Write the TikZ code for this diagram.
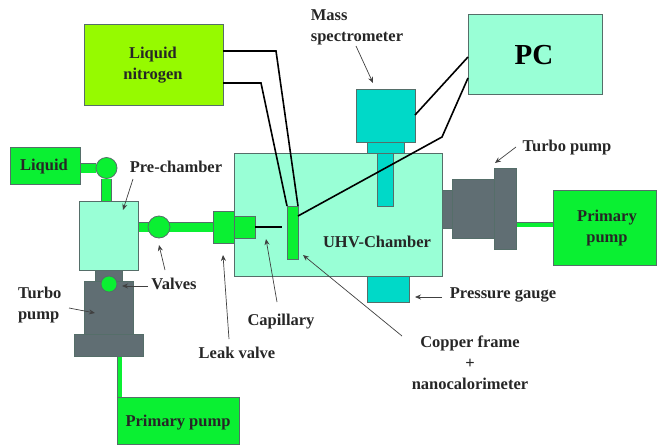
\documentclass[tikz,border=0pt]{standalone}
\usepackage{fontspec}
\setmainfont{Liberation Serif}
\usepackage{xcolor}
\usetikzlibrary{arrows.meta,positioning,backgrounds}
\definecolor{pipegreen}{RGB}{10,240,50}
\definecolor{nitrogen}{RGB}{150,250,0}
\definecolor{paleaqua}{RGB}{153,255,214}
\definecolor{blockteal}{RGB}{0,217,200}
\definecolor{blockgray}{RGB}{96,110,115}
\definecolor{edgegray}{RGB}{85,110,105}

\begin{document}
\begin{tikzpicture}[
  x=1pt, y=-1pt,
  sysbox/.style={draw=edgegray, line width=0.8pt, rectangle, inner sep=0pt, outer sep=0pt,
                 minimum width=#1},
  sysbox/.default=10pt,
  greenbox/.style={sysbox=#1, fill=pipegreen},
  aquabox/.style={sysbox=#1, fill=paleaqua},
  tealbox/.style={sysbox=#1, fill=blockteal},
  graybox/.style={sysbox=#1, fill=blockgray},
  valve/.style={circle, draw=edgegray, line width=0.8pt, fill=pipegreen, inner sep=0pt,
                outer sep=0pt, minimum size=#1},
  pipe/.style={draw=edgegray, line width=0.7pt, double=pipegreen, double distance=#1},
  pipe/.default=9pt,
  wire/.style={black, line width=1.6pt, line join=miter},
  arr/.style={-{Stealth[length=6pt,width=5pt]}, draw=black!75, line width=0.7pt},
  lbl/.style={inner sep=0pt, outer sep=0pt, align=center, text=black!85,
              font=\fontsize{16.5}{21}\selectfont\bfseries},
  node distance=0pt
]
\useasboundingbox (0,0) rectangle (657,445);

%% Main chamber and pre-chamber
\node[aquabox=208pt, minimum height=123pt] (chamber) at (338,214.5) {};
\node[aquabox=59pt, minimum height=69pt]   (prechamber) at (108.5,235.5) {};
\node[aquabox=134pt, minimum height=80pt]  (pc) at (535,54) {};

%% Left turbo stack
\node[graybox=27pt, minimum height=11pt, below=of prechamber] (leftneck) {};
\node[graybox=49pt, minimum height=53pt, below=of leftneck]   (leftbody) {};
\node[graybox=69pt, minimum height=22pt, below=of leftbody]   (leftbase) {};

%% Right turbo stack
\node[graybox=10pt, minimum height=38pt] (rightneck) at (447,209) {};
\node[graybox=42pt, minimum height=59pt, right=of rightneck] (rightbody) {};
\node[graybox=22pt, minimum height=81pt, right=of rightbody] (rightflange) {};

%% Mass spectrometer and gauge
\node[tealbox=59pt, minimum height=53pt] (msbody) at (385.5,115.5) {};
\node[tealbox=37pt, minimum height=11pt, below=of msbody] (msneck) {};
\node[tealbox=16pt, minimum height=53pt, below=of msneck] (mstube) {};
\node[tealbox=42pt, minimum height=26pt] (gauge) at (388,289) {};

%% Supplies and pumps
\node[greenbox=70pt, minimum height=37pt]    (liquid) at (45,165.5) {};
\node[sysbox=139pt, fill=nitrogen, minimum height=81pt] (nitro) at (153.5,64.5) {};
\node[greenbox=122pt, minimum height=46.5pt]  (pumpbottom) at (178,421) {};
\node[greenbox=103.5pt, minimum height=75pt] (pumpright) at (604.75,227.5) {};

%% Leak valve, frame, valves
\node[greenbox=21pt, minimum height=32pt] (leakouter) at (223.5,227) {};
\node[greenbox=21pt, minimum height=22pt, right=of leakouter] (leakinner) {};
\node[greenbox=11pt, minimum height=53pt] (frame) at (292.5,232.5) {};
\node[valve=21pt] (valvetop) at (106.5,168) {};
\node[valve=22pt] (valvemid) at (159,227) {};
\node[valve=16pt] (valvelow) at (109,284) {};

%% Free ends
\coordinate (capend)   at (282,227);
\coordinate (drain)    at (119.5,345);
\coordinate (outlet)   at (510,224.5);
\coordinate (nitroup)  at (276,51);
\coordinate (nitrolow) at (261,83);
\coordinate (wirebend) at (442,137);

%% Pipes go behind the blocks
\begin{scope}[on background layer]
  \draw[pipe] (liquid.east |- valvetop) -- (valvetop);
  \draw[pipe] (valvetop) -- (valvetop |- prechamber.north);
  \draw[pipe] (prechamber.east |- leakouter) -- (leakouter);
  \draw[pipe=4pt] (drain) -- (drain |- pumpbottom.north);
  \draw[pipe=4pt] (outlet) -- (outlet -| pumpright.west);
\end{scope}

%% Wires
\draw[black, line width=1.5pt] (leakinner.east) -- (capend);
\draw[wire] (nitro.east |- nitroup) -- (nitroup) -- (frame.north east);
\draw[wire] (nitro.east |- nitrolow) -- (nitrolow) -- (frame.north west);
\draw[wire] ([yshift=16.5pt]frame.east) -- (wirebend) -- ([yshift=-24pt]pc.west);
\draw[wire] ([yshift=0.5pt]msbody.east) -- ([yshift=-3pt]pc.west);

%% Labels
\node[lbl] (liquidlabel) at (44,167) {Liquid};
\node[lbl] (nitrolabel) at (153,65) {Liquid\\nitrogen};
\node[lbl] (prelabel) at (176,167) {Pre-chamber};
\node[lbl] (valveslabel) at (174,284) {Valves};
\node[lbl, align=left, anchor=west] (turbolabelleft) at (18,305) {Turbo\\pump};
\node[lbl] (pumpbottomlabel) at (178,423) {Primary pump};
\node[lbl] (leaklabel) at (237,353) {Leak valve};
\node[lbl] (caplabel) at (281,322) {Capillary};
\node[lbl] (framelabel) at (470,362.5) {Copper frame\\+\\nanocalorimeter};
\node[lbl] (chamberlabel) at (377,242) {UHV-Chamber};
\node[lbl, align=left] (mslabel) at (357,27.5) {Mass\\spectrometer};
\node[lbl, font=\fontsize{29}{32}\selectfont\bfseries, text=black] (pclabel) at (534,55) {PC};
\node[lbl] (turbolabelright) at (567,148) {Turbo pump};
\node[lbl] (pumprightlabel) at (607,228.5) {Primary\\pump};
\node[lbl] (gaugelabel) at (503,295) {Pressure gauge};

%% Pointer ends
\coordinate (pretail) at (133,179);     \coordinate (pretip) at (123,210);
\coordinate (midtail) at (165,270);     \coordinate (midtip) at (159,245);
\coordinate (lowtail) at (148,286);     \coordinate (lowtip) at (122,286);
\coordinate (bodytail) at (69,308);     \coordinate (bodytip) at (95,313);
\coordinate (leaktail) at (229,339);    \coordinate (leaktip) at (223,255);
\coordinate (captail) at (277,302);     \coordinate (captip) at (266,239);
\coordinate (frametail) at (402,336);   \coordinate (frametip) at (303,255);
\coordinate (mstail) at (356,46);       \coordinate (mstip) at (373,83);
\coordinate (righttail) at (516,147);   \coordinate (righttip) at (495,163);
\coordinate (gaugetail) at (442,297);   \coordinate (gaugetip) at (415,297);

\draw[arr] (pretail) -- (pretip);
\draw[arr] (midtail) -- (midtip);
\draw[arr] (lowtail) -- (lowtip);
\draw[arr] (bodytail) -- (bodytip);
\draw[arr] (leaktail) -- (leaktip);
\draw[arr] (captail) -- (captip);
\draw[arr] (frametail) -- (frametip);
\draw[arr] (mstail) -- (mstip);
\draw[arr] (righttail) -- (righttip);
\draw[arr] (gaugetail) -- (gaugetip);

\end{tikzpicture}
\end{document}
